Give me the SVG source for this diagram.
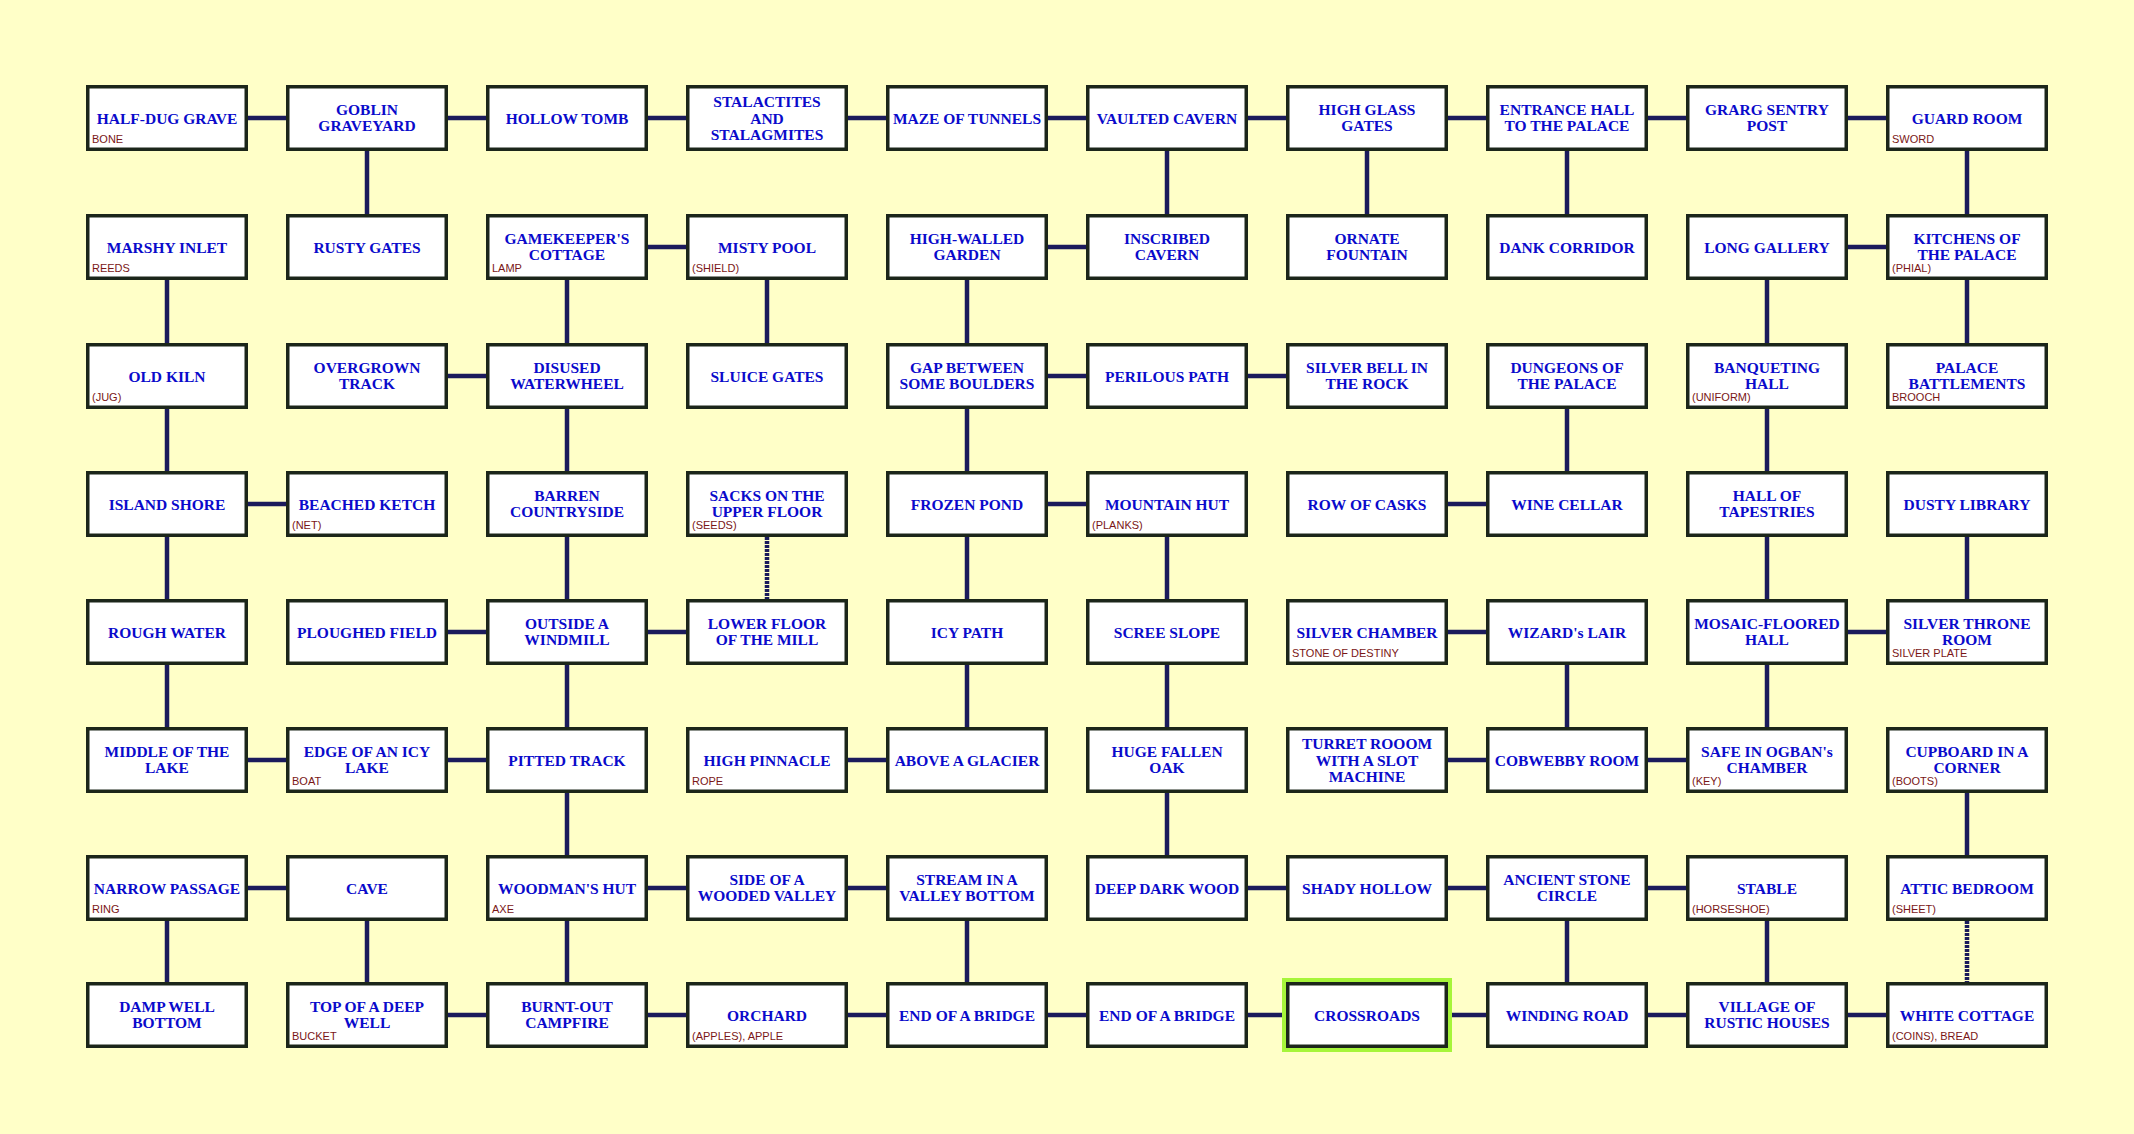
<svg xmlns="http://www.w3.org/2000/svg" width="2134" height="1134" viewBox="0 0 2134 1134">
<style>
.bg{fill:#ffffc8}
.b{fill:#ffffff;stroke:#1c261a;stroke-width:3.5}
.hl{fill:#a6f53a}
.t{font-family:'Liberation Serif','Times New Roman',serif;font-weight:bold;font-size:15.5px;fill:#0a0acb;text-anchor:middle}
.i{font-family:'Liberation Sans',Arial,sans-serif;font-size:11px;fill:#7a1616}
.c path{stroke:#1b1b5c;stroke-width:4.5;fill:none}
.c path.d{stroke-dasharray:3 1}
</style>
<defs>
<rect id="box" class="b" x="1.75" y="1.75" width="158.5" height="62.5"/>
</defs>
<rect class="bg" x="0" y="0" width="2134" height="1134"/>
<g id="connectors" class="c">
<path d="M244 118H290"/><path d="M444 118H490"/><path d="M644 118H690"/><path d="M844 118H890"/><path d="M1044 118H1090"/><path d="M1244 118H1290"/><path d="M1444 118H1490"/><path d="M1644 118H1690"/><path d="M1844 118H1890"/>
<path d="M644 247H690"/><path d="M1044 247H1090"/><path d="M1844 247H1890"/>
<path d="M444 376H490"/><path d="M1044 376H1090"/><path d="M1244 376H1290"/>
<path d="M244 504H290"/><path d="M1044 504H1090"/><path d="M1444 504H1490"/>
<path d="M444 632H490"/><path d="M644 632H690"/><path d="M1444 632H1490"/><path d="M1844 632H1890"/>
<path d="M244 760H290"/><path d="M444 760H490"/><path d="M844 760H890"/><path d="M1444 760H1490"/><path d="M1644 760H1690"/>
<path d="M244 888H290"/><path d="M644 888H690"/><path d="M844 888H890"/><path d="M1244 888H1290"/><path d="M1444 888H1490"/><path d="M1644 888H1690"/>
<path d="M444 1015H490"/><path d="M644 1015H690"/><path d="M844 1015H890"/><path d="M1044 1015H1090"/><path d="M1244 1015H1290"/><path d="M1444 1015H1490"/><path d="M1644 1015H1690"/><path d="M1844 1015H1890"/>
<path d="M367 147V218"/><path d="M1167 147V218"/><path d="M1367 147V218"/><path d="M1567 147V218"/><path d="M1967 147V218"/>
<path d="M167 276V347"/><path d="M567 276V347"/><path d="M767 276V347"/><path d="M967 276V347"/><path d="M1767 276V347"/><path d="M1967 276V347"/>
<path d="M167 405V475"/><path d="M567 405V475"/><path d="M967 405V475"/><path d="M1567 405V475"/><path d="M1767 405V475"/>
<path d="M167 533V603"/><path d="M567 533V603"/><path class="d" d="M767 533V603"/><path d="M967 533V603"/><path d="M1167 533V603"/><path d="M1767 533V603"/><path d="M1967 533V603"/>
<path d="M167 661V731"/><path d="M567 661V731"/><path d="M967 661V731"/><path d="M1167 661V731"/><path d="M1567 661V731"/><path d="M1767 661V731"/>
<path d="M567 789V859"/><path d="M1167 789V859"/><path d="M1967 789V859"/>
<path d="M167 917V986"/><path d="M367 917V986"/><path d="M567 917V986"/><path d="M967 917V986"/><path d="M1567 917V986"/><path d="M1767 917V986"/><path class="d" d="M1967 917V986"/>
</g>

<g id="n-half-dug-grave" transform="translate(86,85)"><use href="#box"/><text class="t" x="81" y="38.5">HALF-DUG GRAVE</text><text class="i" x="6" y="58">BONE</text></g>
<g id="n-goblin-graveyard" transform="translate(286,85)"><use href="#box"/><text class="t" x="81" y="29.5">GOBLIN<tspan x="81" dy="16.5">GRAVEYARD</tspan></text></g>
<g id="n-hollow-tomb" transform="translate(486,85)"><use href="#box"/><text class="t" x="81" y="38.5">HOLLOW TOMB</text></g>
<g id="n-stalactites" transform="translate(686,85)"><use href="#box"/><text class="t" x="81" y="22">STALACTITES<tspan x="81" dy="16.5">AND</tspan><tspan x="81" dy="16.5">STALAGMITES</tspan></text></g>
<g id="n-maze-of-tunnels" transform="translate(886,85)"><use href="#box"/><text class="t" x="81" y="38.5">MAZE OF TUNNELS</text></g>
<g id="n-vaulted-cavern" transform="translate(1086,85)"><use href="#box"/><text class="t" x="81" y="38.5">VAULTED CAVERN</text></g>
<g id="n-high-glass-gates" transform="translate(1286,85)"><use href="#box"/><text class="t" x="81" y="29.5">HIGH GLASS<tspan x="81" dy="16.5">GATES</tspan></text></g>
<g id="n-entrance-hall" transform="translate(1486,85)"><use href="#box"/><text class="t" x="81" y="29.5">ENTRANCE HALL<tspan x="81" dy="16.5">TO THE PALACE</tspan></text></g>
<g id="n-grarg-sentry-post" transform="translate(1686,85)"><use href="#box"/><text class="t" x="81" y="29.5">GRARG SENTRY<tspan x="81" dy="16.5">POST</tspan></text></g>
<g id="n-guard-room" transform="translate(1886,85)"><use href="#box"/><text class="t" x="81" y="38.5">GUARD ROOM</text><text class="i" x="6" y="58">SWORD</text></g>

<g id="n-marshy-inlet" transform="translate(86,214)"><use href="#box"/><text class="t" x="81" y="38.5">MARSHY INLET</text><text class="i" x="6" y="58">REEDS</text></g>
<g id="n-rusty-gates" transform="translate(286,214)"><use href="#box"/><text class="t" x="81" y="38.5">RUSTY GATES</text></g>
<g id="n-gamekeepers-cottage" transform="translate(486,214)"><use href="#box"/><text class="t" x="81" y="29.5">GAMEKEEPER'S<tspan x="81" dy="16.5">COTTAGE</tspan></text><text class="i" x="6" y="58">LAMP</text></g>
<g id="n-misty-pool" transform="translate(686,214)"><use href="#box"/><text class="t" x="81" y="38.5">MISTY POOL</text><text class="i" x="6" y="58">(SHIELD)</text></g>
<g id="n-high-walled-garden" transform="translate(886,214)"><use href="#box"/><text class="t" x="81" y="29.5">HIGH-WALLED<tspan x="81" dy="16.5">GARDEN</tspan></text></g>
<g id="n-inscribed-cavern" transform="translate(1086,214)"><use href="#box"/><text class="t" x="81" y="29.5">INSCRIBED<tspan x="81" dy="16.5">CAVERN</tspan></text></g>
<g id="n-ornate-fountain" transform="translate(1286,214)"><use href="#box"/><text class="t" x="81" y="29.5">ORNATE<tspan x="81" dy="16.5">FOUNTAIN</tspan></text></g>
<g id="n-dank-corridor" transform="translate(1486,214)"><use href="#box"/><text class="t" x="81" y="38.5">DANK CORRIDOR</text></g>
<g id="n-long-gallery" transform="translate(1686,214)"><use href="#box"/><text class="t" x="81" y="38.5">LONG GALLERY</text></g>
<g id="n-kitchens" transform="translate(1886,214)"><use href="#box"/><text class="t" x="81" y="29.5">KITCHENS OF<tspan x="81" dy="16.5">THE PALACE</tspan></text><text class="i" x="6" y="58">(PHIAL)</text></g>

<g id="n-old-kiln" transform="translate(86,343)"><use href="#box"/><text class="t" x="81" y="38.5">OLD KILN</text><text class="i" x="6" y="58">(JUG)</text></g>
<g id="n-overgrown-track" transform="translate(286,343)"><use href="#box"/><text class="t" x="81" y="29.5">OVERGROWN<tspan x="81" dy="16.5">TRACK</tspan></text></g>
<g id="n-disused-waterwheel" transform="translate(486,343)"><use href="#box"/><text class="t" x="81" y="29.5">DISUSED<tspan x="81" dy="16.5">WATERWHEEL</tspan></text></g>
<g id="n-sluice-gates" transform="translate(686,343)"><use href="#box"/><text class="t" x="81" y="38.5">SLUICE GATES</text></g>
<g id="n-gap-between-boulders" transform="translate(886,343)"><use href="#box"/><text class="t" x="81" y="29.5">GAP BETWEEN<tspan x="81" dy="16.5">SOME BOULDERS</tspan></text></g>
<g id="n-perilous-path" transform="translate(1086,343)"><use href="#box"/><text class="t" x="81" y="38.5">PERILOUS PATH</text></g>
<g id="n-silver-bell" transform="translate(1286,343)"><use href="#box"/><text class="t" x="81" y="29.5">SILVER BELL IN<tspan x="81" dy="16.5">THE ROCK</tspan></text></g>
<g id="n-dungeons" transform="translate(1486,343)"><use href="#box"/><text class="t" x="81" y="29.5">DUNGEONS OF<tspan x="81" dy="16.5">THE PALACE</tspan></text></g>
<g id="n-banqueting-hall" transform="translate(1686,343)"><use href="#box"/><text class="t" x="81" y="29.5">BANQUETING<tspan x="81" dy="16.5">HALL</tspan></text><text class="i" x="6" y="58">(UNIFORM)</text></g>
<g id="n-palace-battlements" transform="translate(1886,343)"><use href="#box"/><text class="t" x="81" y="29.5">PALACE<tspan x="81" dy="16.5">BATTLEMENTS</tspan></text><text class="i" x="6" y="58">BROOCH</text></g>

<g id="n-island-shore" transform="translate(86,471)"><use href="#box"/><text class="t" x="81" y="38.5">ISLAND SHORE</text></g>
<g id="n-beached-ketch" transform="translate(286,471)"><use href="#box"/><text class="t" x="81" y="38.5">BEACHED KETCH</text><text class="i" x="6" y="58">(NET)</text></g>
<g id="n-barren-countryside" transform="translate(486,471)"><use href="#box"/><text class="t" x="81" y="29.5">BARREN<tspan x="81" dy="16.5">COUNTRYSIDE</tspan></text></g>
<g id="n-sacks-upper-floor" transform="translate(686,471)"><use href="#box"/><text class="t" x="81" y="29.5">SACKS ON THE<tspan x="81" dy="16.5">UPPER FLOOR</tspan></text><text class="i" x="6" y="58">(SEEDS)</text></g>
<g id="n-frozen-pond" transform="translate(886,471)"><use href="#box"/><text class="t" x="81" y="38.5">FROZEN POND</text></g>
<g id="n-mountain-hut" transform="translate(1086,471)"><use href="#box"/><text class="t" x="81" y="38.5">MOUNTAIN HUT</text><text class="i" x="6" y="58">(PLANKS)</text></g>
<g id="n-row-of-casks" transform="translate(1286,471)"><use href="#box"/><text class="t" x="81" y="38.5">ROW OF CASKS</text></g>
<g id="n-wine-cellar" transform="translate(1486,471)"><use href="#box"/><text class="t" x="81" y="38.5">WINE CELLAR</text></g>
<g id="n-hall-of-tapestries" transform="translate(1686,471)"><use href="#box"/><text class="t" x="81" y="29.5">HALL OF<tspan x="81" dy="16.5">TAPESTRIES</tspan></text></g>
<g id="n-dusty-library" transform="translate(1886,471)"><use href="#box"/><text class="t" x="81" y="38.5">DUSTY LIBRARY</text></g>

<g id="n-rough-water" transform="translate(86,599)"><use href="#box"/><text class="t" x="81" y="38.5">ROUGH WATER</text></g>
<g id="n-ploughed-field" transform="translate(286,599)"><use href="#box"/><text class="t" x="81" y="38.5">PLOUGHED FIELD</text></g>
<g id="n-outside-windmill" transform="translate(486,599)"><use href="#box"/><text class="t" x="81" y="29.5">OUTSIDE A<tspan x="81" dy="16.5">WINDMILL</tspan></text></g>
<g id="n-lower-floor" transform="translate(686,599)"><use href="#box"/><text class="t" x="81" y="29.5">LOWER FLOOR<tspan x="81" dy="16.5">OF THE MILL</tspan></text></g>
<g id="n-icy-path" transform="translate(886,599)"><use href="#box"/><text class="t" x="81" y="38.5">ICY PATH</text></g>
<g id="n-scree-slope" transform="translate(1086,599)"><use href="#box"/><text class="t" x="81" y="38.5">SCREE SLOPE</text></g>
<g id="n-silver-chamber" transform="translate(1286,599)"><use href="#box"/><text class="t" x="81" y="38.5">SILVER CHAMBER</text><text class="i" x="6" y="58">STONE OF DESTINY</text></g>
<g id="n-wizards-lair" transform="translate(1486,599)"><use href="#box"/><text class="t" x="81" y="38.5">WIZARD's LAIR</text></g>
<g id="n-mosaic-floored-hall" transform="translate(1686,599)"><use href="#box"/><text class="t" x="81" y="29.5">MOSAIC-FLOORED<tspan x="81" dy="16.5">HALL</tspan></text></g>
<g id="n-silver-throne-room" transform="translate(1886,599)"><use href="#box"/><text class="t" x="81" y="29.5">SILVER THRONE<tspan x="81" dy="16.5">ROOM</tspan></text><text class="i" x="6" y="58">SILVER PLATE</text></g>

<g id="n-middle-of-lake" transform="translate(86,727)"><use href="#box"/><text class="t" x="81" y="29.5">MIDDLE OF THE<tspan x="81" dy="16.5">LAKE</tspan></text></g>
<g id="n-edge-of-icy-lake" transform="translate(286,727)"><use href="#box"/><text class="t" x="81" y="29.5">EDGE OF AN ICY<tspan x="81" dy="16.5">LAKE</tspan></text><text class="i" x="6" y="58">BOAT</text></g>
<g id="n-pitted-track" transform="translate(486,727)"><use href="#box"/><text class="t" x="81" y="38.5">PITTED TRACK</text></g>
<g id="n-high-pinnacle" transform="translate(686,727)"><use href="#box"/><text class="t" x="81" y="38.5">HIGH PINNACLE</text><text class="i" x="6" y="58">ROPE</text></g>
<g id="n-above-glacier" transform="translate(886,727)"><use href="#box"/><text class="t" x="81" y="38.5">ABOVE A GLACIER</text></g>
<g id="n-huge-fallen-oak" transform="translate(1086,727)"><use href="#box"/><text class="t" x="81" y="29.5">HUGE FALLEN<tspan x="81" dy="16.5">OAK</tspan></text></g>
<g id="n-turret-room" transform="translate(1286,727)"><use href="#box"/><text class="t" x="81" y="22">TURRET ROOOM<tspan x="81" dy="16.5">WITH A SLOT</tspan><tspan x="81" dy="16.5">MACHINE</tspan></text></g>
<g id="n-cobwebby-room" transform="translate(1486,727)"><use href="#box"/><text class="t" x="81" y="38.5">COBWEBBY ROOM</text></g>
<g id="n-safe-ogban" transform="translate(1686,727)"><use href="#box"/><text class="t" x="81" y="29.5">SAFE IN OGBAN's<tspan x="81" dy="16.5">CHAMBER</tspan></text><text class="i" x="6" y="58">(KEY)</text></g>
<g id="n-cupboard" transform="translate(1886,727)"><use href="#box"/><text class="t" x="81" y="29.5">CUPBOARD IN A<tspan x="81" dy="16.5">CORNER</tspan></text><text class="i" x="6" y="58">(BOOTS)</text></g>

<g id="n-narrow-passage" transform="translate(86,855)"><use href="#box"/><text class="t" x="81" y="38.5">NARROW PASSAGE</text><text class="i" x="6" y="58">RING</text></g>
<g id="n-cave" transform="translate(286,855)"><use href="#box"/><text class="t" x="81" y="38.5">CAVE</text></g>
<g id="n-woodmans-hut" transform="translate(486,855)"><use href="#box"/><text class="t" x="81" y="38.5">WOODMAN'S HUT</text><text class="i" x="6" y="58">AXE</text></g>
<g id="n-side-wooded-valley" transform="translate(686,855)"><use href="#box"/><text class="t" x="81" y="29.5">SIDE OF A<tspan x="81" dy="16.5">WOODED VALLEY</tspan></text></g>
<g id="n-stream-valley" transform="translate(886,855)"><use href="#box"/><text class="t" x="81" y="29.5">STREAM IN A<tspan x="81" dy="16.5">VALLEY BOTTOM</tspan></text></g>
<g id="n-deep-dark-wood" transform="translate(1086,855)"><use href="#box"/><text class="t" x="81" y="38.5">DEEP DARK WOOD</text></g>
<g id="n-shady-hollow" transform="translate(1286,855)"><use href="#box"/><text class="t" x="81" y="38.5">SHADY HOLLOW</text></g>
<g id="n-ancient-stone-circle" transform="translate(1486,855)"><use href="#box"/><text class="t" x="81" y="29.5">ANCIENT STONE<tspan x="81" dy="16.5">CIRCLE</tspan></text></g>
<g id="n-stable" transform="translate(1686,855)"><use href="#box"/><text class="t" x="81" y="38.5">STABLE</text><text class="i" x="6" y="58">(HORSESHOE)</text></g>
<g id="n-attic-bedroom" transform="translate(1886,855)"><use href="#box"/><text class="t" x="81" y="38.5">ATTIC BEDROOM</text><text class="i" x="6" y="58">(SHEET)</text></g>

<g id="n-damp-well-bottom" transform="translate(86,982)"><use href="#box"/><text class="t" x="81" y="29.5">DAMP WELL<tspan x="81" dy="16.5">BOTTOM</tspan></text></g>
<g id="n-top-deep-well" transform="translate(286,982)"><use href="#box"/><text class="t" x="81" y="29.5">TOP OF A DEEP<tspan x="81" dy="16.5">WELL</tspan></text><text class="i" x="6" y="58">BUCKET</text></g>
<g id="n-burnt-out-campfire" transform="translate(486,982)"><use href="#box"/><text class="t" x="81" y="29.5">BURNT-OUT<tspan x="81" dy="16.5">CAMPFIRE</tspan></text></g>
<g id="n-orchard" transform="translate(686,982)"><use href="#box"/><text class="t" x="81" y="38.5">ORCHARD</text><text class="i" x="6" y="58">(APPLES), APPLE</text></g>
<g id="n-end-of-bridge-w" transform="translate(886,982)"><use href="#box"/><text class="t" x="81" y="38.5">END OF A BRIDGE</text></g>
<g id="n-end-of-bridge-e" transform="translate(1086,982)"><use href="#box"/><text class="t" x="81" y="38.5">END OF A BRIDGE</text></g>
<g id="n-crossroads" transform="translate(1286,982)"><rect class="hl" x="-4" y="-4" width="170" height="74"/><use href="#box"/><text class="t" x="81" y="38.5">CROSSROADS</text></g>
<g id="n-winding-road" transform="translate(1486,982)"><use href="#box"/><text class="t" x="81" y="38.5">WINDING ROAD</text></g>
<g id="n-village" transform="translate(1686,982)"><use href="#box"/><text class="t" x="81" y="29.5">VILLAGE OF<tspan x="81" dy="16.5">RUSTIC HOUSES</tspan></text></g>
<g id="n-white-cottage" transform="translate(1886,982)"><use href="#box"/><text class="t" x="81" y="38.5">WHITE COTTAGE</text><text class="i" x="6" y="58">(COINS), BREAD</text></g>
</svg>
